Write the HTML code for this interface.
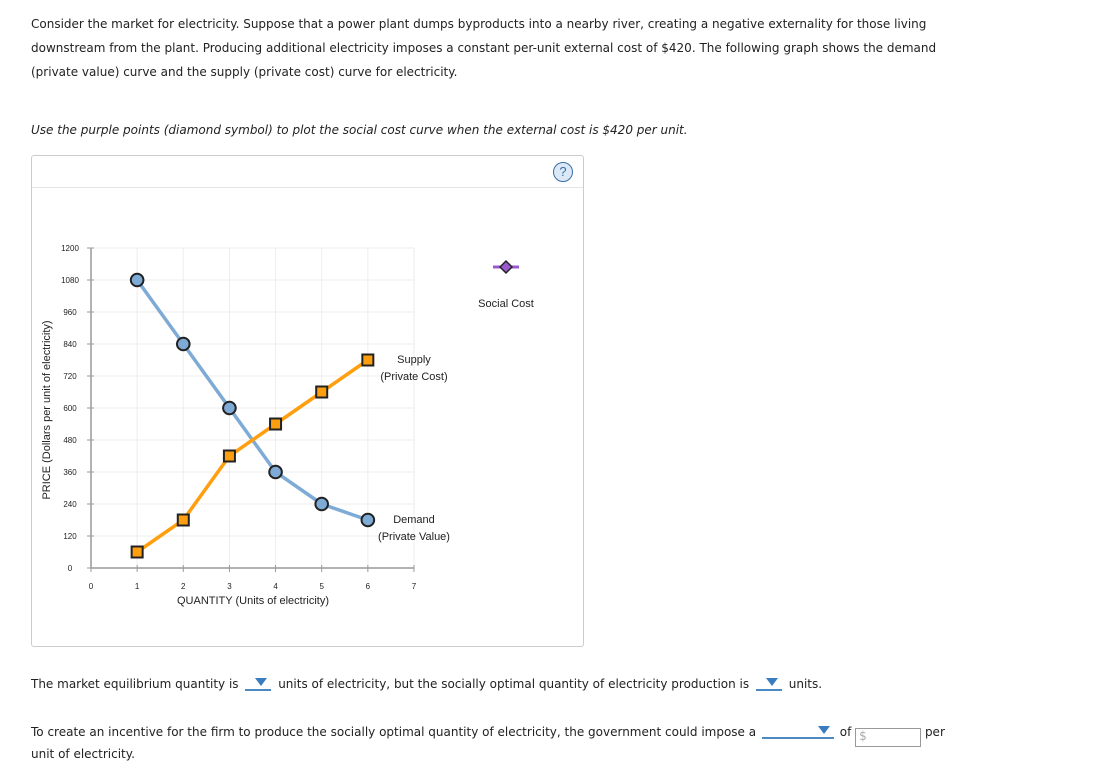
<!DOCTYPE html>
<html><head><meta charset="utf-8"><style>
body{margin:0;width:1118px;height:778px;background:#fff;font-family:"DejaVu Sans","Liberation Sans",sans-serif;color:#222;position:relative;overflow:hidden}
.t{position:absolute;left:31px;font-size:12px;white-space:nowrap}
.dd{display:inline-block;border-bottom:2px solid #4a8ac4;height:14px;vertical-align:-3px;position:relative;margin:0 3px}
.dd:after{content:"";position:absolute;right:4px;top:3px;border-left:6px solid transparent;border-right:6px solid transparent;border-top:8px solid #3a7cc0}
</style></head><body>
<div class="t" style="top:12px;line-height:24px">Consider the market for electricity. Suppose that a power plant dumps byproducts into a nearby river, creating a negative externality for those living<br>downstream from the plant. Producing additional electricity imposes a constant per-unit external cost of $420. The following graph shows the demand<br>(private value) curve and the supply (private cost) curve for electricity.</div>
<div class="t" style="top:123px;font-style:italic">Use the purple points (diamond symbol) to plot the social cost curve when the external cost is $420 per unit.</div>
<div style="position:absolute;left:31px;top:155px;width:551px;height:490px;border:1px solid #ccc;border-radius:3px"></div>
<div style="position:absolute;left:32px;top:187px;width:551px;border-top:1px solid #e4e4e4"></div>
<div style="position:absolute;left:553px;top:162px;width:18px;height:18px;border:1px solid #3a6ea5;border-radius:50%;background:#dbe9f7;color:#3a6ea5;font-size:13px;text-align:center;line-height:18px;font-family:'Liberation Sans',sans-serif">?</div>
<svg width="1118" height="778" style="position:absolute;left:0;top:0;font-family:'Liberation Sans',sans-serif">
<g id="grid"></g><g id="axes"></g><g id="series"></g>
<line x1="493" y1="267" x2="519" y2="267" stroke="#9b59d0" stroke-width="3"/>
<polygon points="506,261 512,267 506,273 500,267" fill="#9b59d0" stroke="#222" stroke-width="1.5"/>
<text x="506" y="307" font-size="11" text-anchor="middle" fill="#222">Social Cost</text>
<text x="414" y="363" font-size="11" text-anchor="middle" fill="#222">Supply</text>
<text x="414" y="380" font-size="11" text-anchor="middle" fill="#222">(Private Cost)</text>
<text x="414" y="523" font-size="11" text-anchor="middle" fill="#222">Demand</text>
<text x="414" y="540" font-size="11" text-anchor="middle" fill="#222">(Private Value)</text>
<text x="253" y="604" font-size="11" text-anchor="middle" fill="#222">QUANTITY (Units of electricity)</text>
<text transform="translate(50,410) rotate(-90)" font-size="11" text-anchor="middle" fill="#222">PRICE (Dollars per unit of electricity)</text>
</svg>
<div class="t" style="top:675px">The market equilibrium quantity is <span class="dd" style="width:26px"></span> units of electricity, but the socially optimal quantity of electricity production is <span class="dd" style="width:26px"></span> units.</div>
<div class="t" style="top:723px">To create an incentive for the firm to produce the socially optimal quantity of electricity, the government could impose a <span class="dd" style="width:72px;margin:0 2px"></span> of <span style="display:inline-block;width:61px;height:17px;border:1px solid #999;vertical-align:-4px;color:#aaa;font-size:12px;padding-left:3px">$</span> per</div>
<div class="t" style="top:747px">unit of electricity.</div>
<script>
const quantities=[1,2,3,4,5,6];
const demandValues=[1080,840,600,360,240,180];
const supplyValues=[60,180,420,540,660,780];
const yTicks=[0,120,240,360,480,600,720,840,960,1080,1200];
const xTicks=[0,1,2,3,4,5,6,7];
const NS="http://www.w3.org/2000/svg";
const X=v=>91+v*46.14, Y=v=>568-v*320/1200;
function mk(p,tag,a){const e=document.createElementNS(NS,tag);for(const k in a)e.setAttribute(k,a[k]);p.appendChild(e);return e;}
const g=document.getElementById('grid'),ax=document.getElementById('axes'),s=document.getElementById('series');
yTicks.forEach(v=>{
 const l=mk(g,'line',{x1:X(0),x2:X(7),y1:Y(v),y2:Y(v),stroke:'#eee'});
 
 
 mk(ax,'line',{x1:X(0)-4,x2:X(0)+3,y1:Y(v),y2:Y(v),stroke:'#999'});
 const t=mk(ax,'text',{x:70,y:Y(v)+3,'font-size':8,'text-anchor':'middle',fill:'#222'});t.textContent=v;
 
 
});
xTicks.forEach(v=>{
 const l=mk(g,'line',{x1:X(v),x2:X(v),y1:Y(0),y2:Y(1200),stroke:'#eee'});
 
 
 mk(ax,'line',{x1:X(v),x2:X(v),y1:Y(0)-3,y2:Y(0)+4,stroke:'#999'});
 const t=mk(ax,'text',{x:X(v),y:589,'font-size':8,'text-anchor':'middle',fill:'#222'});t.textContent=v;
 
 
});
mk(ax,'line',{x1:X(0),x2:X(0),y1:Y(0),y2:Y(1200),stroke:'#999','stroke-width':1.5});
mk(ax,'line',{x1:X(0),x2:X(7),y1:Y(0),y2:Y(0),stroke:'#999','stroke-width':1.5});
function line(vals,col,name){const p=mk(s,'polyline',{points:quantities.map((q,i)=>X(q)+','+Y(vals[i])).join(' '),fill:'none',stroke:col,'stroke-width':3.5});
 
 }
line(demandValues,'#7eaad6','demand-line');
line(supplyValues,'#ff9e0e','supply-line');
quantities.forEach((q,i)=>{
 const c=mk(s,'circle',{cx:X(q),cy:Y(demandValues[i]),r:6.3,fill:'#7eaad6',stroke:'#222','stroke-width':2});
 
 
 const r=mk(s,'rect',{x:X(q)-5.5,y:Y(supplyValues[i])-5.5,width:11,height:11,fill:'#ff9e0e',stroke:'#222','stroke-width':2});
 
 
});
</script>
</body></html>
